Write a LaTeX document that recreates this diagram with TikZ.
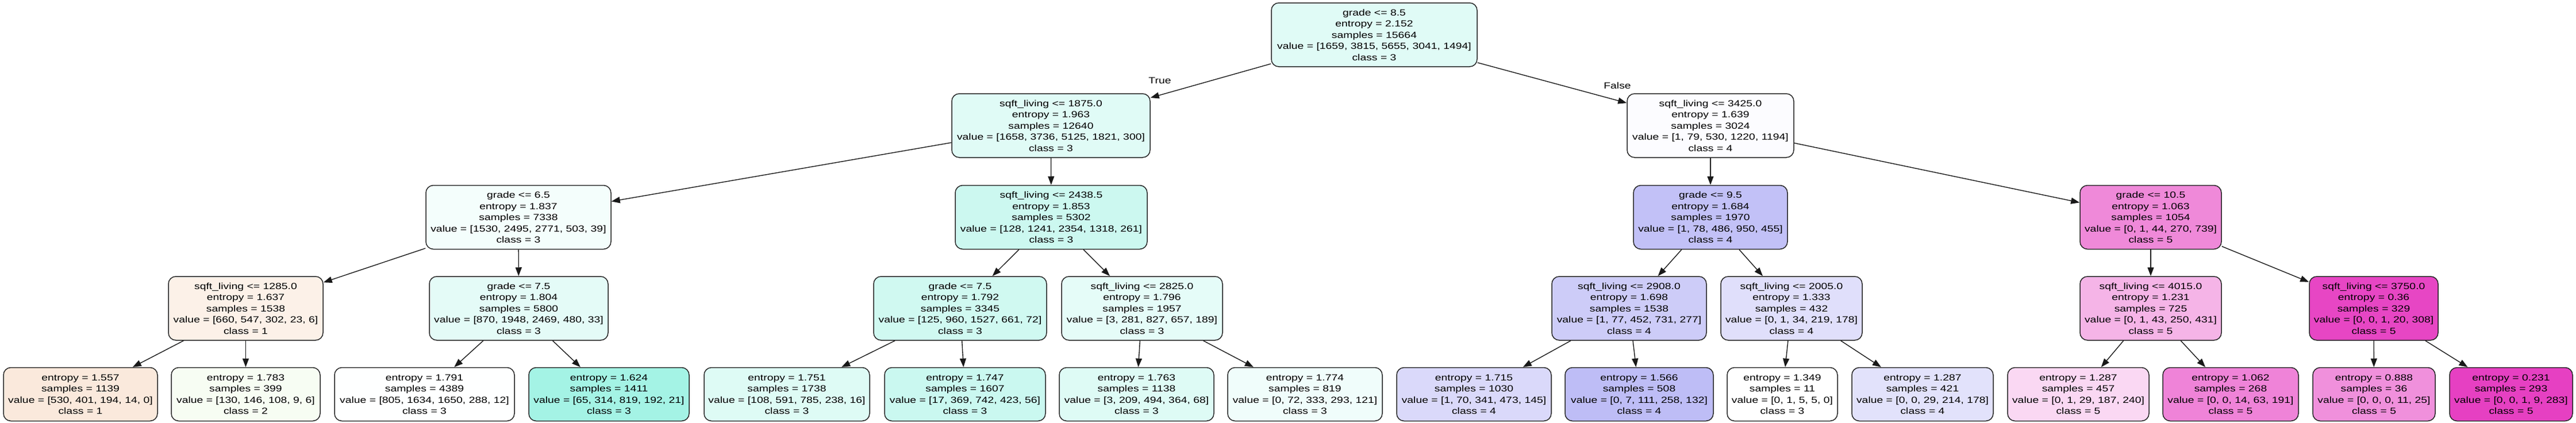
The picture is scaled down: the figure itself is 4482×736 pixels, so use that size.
\documentclass[tikz,border=0pt]{standalone}
\usepackage{fontspec}
\usetikzlibrary{arrows.meta}
\newfontfamily\trfam[FakeStretch=1.25]{Liberation Sans}
\newcommand\trfont{\trfam\fontsize{15.5pt}{19.5pt}\selectfont}
\definecolor{cA}{RGB}{229,129,57}
\definecolor{cB}{RGB}{123,229,57}
\definecolor{cC}{RGB}{57,229,198}
\definecolor{cD}{RGB}{60,57,229}
\definecolor{cE}{RGB}{229,57,192}
\tikzset{
  tn/.style={draw=black!85, line width=1.5pt, rounded corners=13pt, font=\trfont,
    align=center, inner sep=0pt, minimum height=111pt},
  lf/.style={tn, minimum height=93pt},
  ed/.style={line width=1.4pt, draw=black!90, -{Triangle[length=15pt,width=11pt]}},
  el/.style={font=\trfont, inner sep=0pt}
}
\begin{document}
\begin{tikzpicture}[x=1pt,y=-1pt]
\path[use as bounding box] (0,0) rectangle (4482,736);
% level 0
\node[tn, minimum width=358pt, fill=cC!15.5!white] (n0) at (2391,60.5) {grade <= 8.5\\entropy = 2.152\\samples = 15664\\value = [1659, 3815, 5655, 3041, 1494]\\class = 3};
% level 1
\node[tn, minimum width=345pt, fill=cC!15.6!white] (n1) at (1828.5,218.5) {sqft\_living <= 1875.0\\entropy = 1.963\\samples = 12640\\value = [1658, 3736, 5125, 1821, 300]\\class = 3};
\node[tn, minimum width=290pt, fill=cD!1.4!white] (n2) at (2976,218.5) {sqft\_living <= 3425.0\\entropy = 1.639\\samples = 3024\\value = [1, 79, 530, 1220, 1194]\\class = 4};
% level 2
\node[tn, minimum width=322pt, fill=cC!5.7!white] (n3) at (902,378) {grade <= 6.5\\entropy = 1.837\\samples = 7338\\value = [1530, 2495, 2771, 503, 39]\\class = 3};
\node[tn, minimum width=334pt, fill=cC!26!white] (n4) at (1829,378) {sqft\_living <= 2438.5\\entropy = 1.853\\samples = 5302\\value = [128, 1241, 2354, 1318, 261]\\class = 3};
\node[tn, minimum width=268pt, fill=cD!31.3!white] (n5) at (2976,378) {grade <= 9.5\\entropy = 1.684\\samples = 1970\\value = [1, 78, 486, 950, 455]\\class = 4};
\node[tn, minimum width=246pt, fill=cE!59.8!white] (n6) at (3742,378) {grade <= 10.5\\entropy = 1.063\\samples = 1054\\value = [0, 1, 44, 270, 739]\\class = 5};
% level 3
\node[tn, minimum width=269pt, fill=cA!11.4!white] (n7) at (427.5,536.5) {sqft\_living <= 1285.0\\entropy = 1.637\\samples = 1538\\value = [660, 547, 302, 23, 6]\\class = 1};
\node[tn, minimum width=311pt, fill=cC!13.5!white] (n8) at (902.5,536.5) {grade <= 7.5\\entropy = 1.804\\samples = 5800\\value = [870, 1948, 2469, 480, 33]\\class = 3};
\node[tn, minimum width=301pt, fill=cC!23.8!white] (n9) at (1670.5,536.5) {grade <= 7.5\\entropy = 1.792\\samples = 3345\\value = [125, 960, 1527, 661, 72]\\class = 3};
\node[tn, minimum width=280pt, fill=cC!13.1!white] (n10) at (1987,536.5) {sqft\_living <= 2825.0\\entropy = 1.796\\samples = 1957\\value = [3, 281, 827, 657, 189]\\class = 3};
\node[tn, minimum width=269pt, fill=cD!25.7!white] (n11) at (2834.5,536.5) {sqft\_living <= 2908.0\\entropy = 1.698\\samples = 1538\\value = [1, 77, 452, 731, 277]\\class = 4};
\node[tn, minimum width=246pt, fill=cD!16.1!white] (n12) at (3117,536.5) {sqft\_living <= 2005.0\\entropy = 1.333\\samples = 432\\value = [0, 1, 34, 219, 178]\\class = 4};
\node[tn, minimum width=246pt, fill=cE!38.1!white] (n13) at (3742,536.5) {sqft\_living <= 4015.0\\entropy = 1.231\\samples = 725\\value = [0, 1, 43, 250, 431]\\class = 5};
\node[tn, minimum width=224pt, fill=cE!93.2!white] (n14) at (4130,536.5) {sqft\_living <= 3750.0\\entropy = 0.36\\samples = 329\\value = [0, 0, 1, 20, 308]\\class = 5};
% level 4 (leaves)
\node[lf, minimum width=268pt, fill=cA!17.5!white] (l1) at (140,686) {entropy = 1.557\\samples = 1139\\value = [530, 401, 194, 14, 0]\\class = 1};
\node[lf, minimum width=259pt, fill=cB!5.9!white] (l2) at (427.5,686) {entropy = 1.783\\samples = 399\\value = [130, 146, 108, 9, 6]\\class = 2};
\node[lf, minimum width=313pt, fill=cC!0.6!white] (l3) at (738.5,686) {entropy = 1.791\\samples = 4389\\value = [805, 1634, 1650, 288, 12]\\class = 3};
\node[lf, minimum width=279pt, fill=cC!46!white] (l4) at (1059.5,686) {entropy = 1.624\\samples = 1411\\value = [65, 314, 819, 192, 21]\\class = 3};
\node[lf, minimum width=288pt, fill=cC!16.9!white] (l5) at (1369,686) {entropy = 1.751\\samples = 1738\\value = [108, 591, 785, 238, 16]\\class = 3};
\node[lf, minimum width=280pt, fill=cC!26.9!white] (l6) at (1679,686) {entropy = 1.747\\samples = 1607\\value = [17, 369, 742, 423, 56]\\class = 3};
\node[lf, minimum width=269pt, fill=cC!16.8!white] (l7) at (1977.5,686) {entropy = 1.763\\samples = 1138\\value = [3, 209, 494, 364, 68]\\class = 3};
\node[lf, minimum width=269pt, fill=cC!7.6!white] (l8) at (2270.5,686) {entropy = 1.774\\samples = 819\\value = [0, 72, 333, 293, 121]\\class = 3};
\node[lf, minimum width=269pt, fill=cD!19.2!white] (l9) at (2564.5,686) {entropy = 1.715\\samples = 1030\\value = [1, 70, 341, 473, 145]\\class = 4};
\node[lf, minimum width=258pt, fill=cD!33.5!white] (l10) at (2852,686) {entropy = 1.566\\samples = 508\\value = [0, 7, 111, 258, 132]\\class = 4};
\node[lf, minimum width=192pt, fill=white] (l11) at (3101,686) {entropy = 1.349\\samples = 11\\value = [0, 1, 5, 5, 0]\\class = 3};
\node[lf, minimum width=246pt, fill=cD!14.8!white] (l12) at (3345,686) {entropy = 1.287\\samples = 421\\value = [0, 0, 29, 214, 178]\\class = 4};
\node[lf, minimum width=246pt, fill=cE!19.6!white] (l13) at (3616,686) {entropy = 1.287\\samples = 457\\value = [0, 1, 29, 187, 240]\\class = 5};
\node[lf, minimum width=236pt, fill=cE!62.4!white] (l14) at (3881,686) {entropy = 1.062\\samples = 268\\value = [0, 0, 14, 63, 191]\\class = 5};
\node[lf, minimum width=213pt, fill=cE!56!white] (l15) at (4130.5,686) {entropy = 0.888\\samples = 36\\value = [0, 0, 0, 11, 25]\\class = 5};
\node[lf, minimum width=214pt, fill=cE!96.5!white] (l16) at (4369,686) {entropy = 0.231\\samples = 293\\value = [0, 0, 1, 9, 283]\\class = 5};
% edges
\draw[ed] (n0) -- (n1);
\draw[ed] (n0) -- (n2);
\draw[ed] (n1) -- (n3);
\draw[ed] (n1) -- (n4);
\draw[ed] (n2) -- (n5);
\draw[ed] (n2) -- (n6);
\draw[ed] (n3) -- (n7);
\draw[ed] (n3) -- (n8);
\draw[ed] (n4) -- (n9);
\draw[ed] (n4) -- (n10);
\draw[ed] (n5) -- (n11);
\draw[ed] (n5) -- (n12);
\draw[ed] (n6) -- (n13);
\draw[ed] (n6) -- (n14);
\draw[ed] (n7) -- (l1);
\draw[ed] (n7) -- (l2);
\draw[ed] (n8) -- (l3);
\draw[ed] (n8) -- (l4);
\draw[ed] (n9) -- (l5);
\draw[ed] (n9) -- (l6);
\draw[ed] (n10) -- (l7);
\draw[ed] (n10) -- (l8);
\draw[ed] (n11) -- (l9);
\draw[ed] (n11) -- (l10);
\draw[ed] (n12) -- (l11);
\draw[ed] (n12) -- (l12);
\draw[ed] (n13) -- (l13);
\draw[ed] (n13) -- (l14);
\draw[ed] (n14) -- (l15);
\draw[ed] (n14) -- (l16);
% edge labels
\node[el] (tlab) at (2018,140) {True};
\node[el] (flab) at (2814,149) {False};
\end{tikzpicture}
\end{document}
